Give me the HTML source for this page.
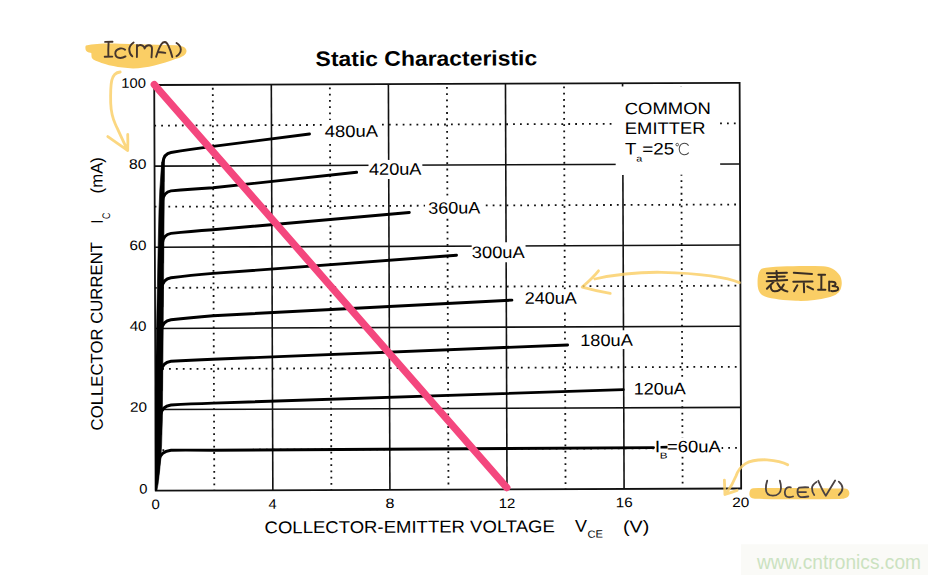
<!DOCTYPE html>
<html><head><meta charset="utf-8">
<style>
html,body{margin:0;padding:0;background:#fff;overflow:hidden;}
svg{display:block;}
text{font-family:"Liberation Sans",sans-serif;fill:#000;}
.g{stroke:#111;stroke-width:1.6;}
.dv{stroke:#111;stroke-width:1.8;stroke-dasharray:1.8 4.48;stroke-dashoffset:1.08;}
.dh{stroke:#111;stroke-width:1.8;stroke-dasharray:1.8 5.1;stroke-dashoffset:0.1;}
.fr{fill:none;stroke:#111;stroke-width:1.8;}
.cv{fill:none;stroke:#000;stroke-width:2.9;stroke-linejoin:round;stroke-linecap:round;}
</style></head><body>
<svg width="941" height="578" viewBox="0 0 941 578">
<rect width="941" height="578" fill="#fff"/>
<g transform="rotate(-0.2177 448.0 287.0)">
<line x1="213.54" y1="489.60" x2="213.54" y2="83.90" class="dv"/>
<line x1="330.62" y1="489.60" x2="330.62" y2="83.90" class="dv"/>
<line x1="447.70" y1="489.60" x2="447.70" y2="83.90" class="dv"/>
<line x1="564.78" y1="489.60" x2="564.78" y2="83.90" class="dv"/>
<line x1="681.86" y1="489.60" x2="681.86" y2="83.90" class="dv"/>
<line x1="155.00" y1="449.03" x2="740.40" y2="449.03" class="dh"/>
<line x1="155.00" y1="367.89" x2="740.40" y2="367.89" class="dh"/>
<line x1="155.00" y1="286.75" x2="740.40" y2="286.75" class="dh"/>
<line x1="155.00" y1="205.61" x2="740.40" y2="205.61" class="dh"/>
<line x1="155.00" y1="124.47" x2="740.40" y2="124.47" class="dh"/>
<line x1="272.08" y1="83.90" x2="272.08" y2="489.60" class="g"/>
<line x1="389.16" y1="83.90" x2="389.16" y2="489.60" class="g"/>
<line x1="506.24" y1="83.90" x2="506.24" y2="489.60" class="g"/>
<line x1="623.32" y1="83.90" x2="623.32" y2="489.60" class="g"/>
<line x1="155.00" y1="408.46" x2="740.40" y2="408.46" class="g"/>
<line x1="155.00" y1="327.32" x2="740.40" y2="327.32" class="g"/>
<line x1="155.00" y1="246.18" x2="740.40" y2="246.18" class="g"/>
<line x1="155.00" y1="165.04" x2="740.40" y2="165.04" class="g"/>
<rect x="616.16" y="87.14" width="104.47" height="88.50" fill="#fff"/>
<rect x="368.98" y="159.70" width="53.83" height="19.10" fill="#fff"/>
<rect x="471.87" y="242.49" width="53.82" height="20.00" fill="#fff"/>
<rect x="322.63" y="119.52" width="58.92" height="20.22" fill="#fff"/>
<rect x="425.35" y="195.91" width="57.92" height="21.22" fill="#fff"/>
<rect x="521.99" y="289.78" width="57.92" height="22.22" fill="#fff"/>
<rect x="577.84" y="330.89" width="57.93" height="18.92" fill="#fff"/>
<rect x="629.65" y="380.69" width="58.93" height="18.22" fill="#fff"/>
<rect x="654.43" y="438.79" width="66.43" height="18.75" fill="#fff"/>
<rect x="155.00" y="83.90" width="585.40" height="405.70" class="fr"/>
<path d="M164.88,158.92 L164.53,198.92 L163.94,248.92 L163.35,298.92 L162.76,348.92 L162.21,388.92 L161.79,418.91 L161.00,443.91 L160.04,458.91 L158.90,469.90 L157.46,481.90 L156.13,489.49 L154.43,489.49 L154.62,438.89 L155.01,388.89 L156.10,338.89 L157.29,288.90 L158.48,238.90 L159.29,208.90 L160.17,188.90 L161.44,170.91 L162.38,160.91 Z" fill="#000" stroke="#000" stroke-width="0.6" stroke-linejoin="round"/>
<path d="M163.19,180.42 L163.36,161.42 Q164.29,152.62 171.51,151.45 Q190.52,148.27 213.53,145.51 L310.08,133.47" class="cv"/>
<path d="M162.80,218.82 L163.02,199.82 Q163.95,191.02 171.37,189.85 Q190.37,188.17 213.38,186.91 L357.04,171.95" class="cv"/>
<path d="M162.29,261.31 L162.52,242.31 Q163.45,233.52 171.20,232.35 Q190.21,230.42 213.22,228.91 L409.58,212.35" class="cv"/>
<path d="M161.77,305.61 L162.00,286.61 Q162.93,277.82 171.04,276.65 Q190.04,274.37 213.05,272.51 L456.62,255.23" class="cv"/>
<path d="M161.27,347.71 L161.50,328.71 Q162.43,319.92 170.88,318.75 Q189.88,316.57 212.89,314.81 L511.85,300.34" class="cv"/>
<path d="M160.70,389.21 L160.97,370.21 Q161.90,361.41 170.72,360.25 Q189.72,359.12 212.73,358.41 L567.38,345.45" class="cv"/>
<path d="M159.85,432.91 L160.36,413.91 Q161.30,405.11 170.55,403.95 Q189.56,402.87 212.56,402.21 L622.81,390.27" class="cv"/>
<path d="M156.41,478.09 L158.52,459.10 Q159.46,450.31 170.38,449.15 Q189.38,449.07 212.38,449.41 L652.89,448.38" class="cv"/>
<line x1="659.89" y1="448.01" x2="666.89" y2="447.93" stroke="#000" stroke-width="2.6"/>
<line x1="155.07" y1="83.48" x2="506.04" y2="487.82" stroke="#F4477E" stroke-width="7.3" stroke-linecap="round"/>
<text x="316.45" y="65.62" textLength="221.58" lengthAdjust="spacingAndGlyphs" style="font-size:21px;font-weight:bold;" >Static Characteristic</text>
<text x="121.98" y="86.61" textLength="24.65" lengthAdjust="spacingAndGlyphs" style="font-size:13.7px;" >100</text>
<text x="129.42" y="167.62" textLength="17.43" lengthAdjust="spacingAndGlyphs" style="font-size:13.7px;" >80</text>
<text x="129.58" y="248.92" textLength="16.95" lengthAdjust="spacingAndGlyphs" style="font-size:13.7px;" >60</text>
<text x="129.53" y="329.52" textLength="16.89" lengthAdjust="spacingAndGlyphs" style="font-size:13.7px;" >40</text>
<text x="129.56" y="410.62" textLength="17.06" lengthAdjust="spacingAndGlyphs" style="font-size:13.7px;" >20</text>
<text x="138.52" y="492.44" textLength="8.23" lengthAdjust="spacingAndGlyphs" style="font-size:13.7px;" >0</text>
<text x="150.66" y="507.79" textLength="8.34" lengthAdjust="spacingAndGlyphs" style="font-size:13.7px;" >0</text>
<text x="267.66" y="508.03" textLength="8.18" lengthAdjust="spacingAndGlyphs" style="font-size:13.7px;" >4</text>
<text x="384.61" y="507.88" textLength="8.99" lengthAdjust="spacingAndGlyphs" style="font-size:13.7px;" >8</text>
<text x="497.96" y="508.23" textLength="16.63" lengthAdjust="spacingAndGlyphs" style="font-size:13.7px;" >12</text>
<text x="614.84" y="507.77" textLength="16.96" lengthAdjust="spacingAndGlyphs" style="font-size:13.7px;" >16</text>
<text x="731.50" y="508.01" textLength="17.06" lengthAdjust="spacingAndGlyphs" style="font-size:13.7px;" >20</text>
<text x="325.40" y="136.53" textLength="53.28" lengthAdjust="spacingAndGlyphs" style="font-size:16.6px;" >480uA</text>
<text x="369.36" y="174.60" textLength="52.57" lengthAdjust="spacingAndGlyphs" style="font-size:16.6px;" >420uA</text>
<text x="428.46" y="213.62" textLength="52.13" lengthAdjust="spacingAndGlyphs" style="font-size:16.6px;" >360uA</text>
<text x="471.88" y="258.19" textLength="52.94" lengthAdjust="spacingAndGlyphs" style="font-size:16.6px;" >300uA</text>
<text x="524.64" y="304.09" textLength="52.11" lengthAdjust="spacingAndGlyphs" style="font-size:16.6px;" >240uA</text>
<text x="580.02" y="346.50" textLength="52.56" lengthAdjust="spacingAndGlyphs" style="font-size:16.6px;" >180uA</text>
<text x="633.25" y="395.21" textLength="52.15" lengthAdjust="spacingAndGlyphs" style="font-size:16.6px;" >120uA</text>
<text x="654.17" y="453.00" textLength="5.56" lengthAdjust="spacingAndGlyphs" style="font-size:16.6px;" >I</text>
<text x="659.21" y="459.42" textLength="7.78" lengthAdjust="spacingAndGlyphs" style="font-size:8.5px;" >B</text>
<text x="666.45" y="453.14" textLength="53.79" lengthAdjust="spacingAndGlyphs" style="font-size:16.6px;" >=60uA</text>
<text x="625.33" y="114.83" textLength="86.21" lengthAdjust="spacingAndGlyphs" style="font-size:16.6px;" >COMMON</text>
<text x="625.41" y="134.73" textLength="80.66" lengthAdjust="spacingAndGlyphs" style="font-size:16.6px;" >EMITTER</text>
<text x="625.63" y="155.29" textLength="11.47" lengthAdjust="spacingAndGlyphs" style="font-size:16.6px;" >T</text>
<text x="636.85" y="162.33" textLength="5.99" lengthAdjust="spacingAndGlyphs" style="font-size:8.8px;" >a</text>
<text x="642.66" y="155.40" textLength="32.13" lengthAdjust="spacingAndGlyphs" style="font-size:16.6px;" >=25</text>
<circle cx="677.74" cy="145.47" r="1.3" fill="none" stroke="#444" stroke-width="0.9"/>
<path d="M689.14,146.51 C686.55,142.90 680.05,143.38 679.72,149.88 C680.00,156.38 686.50,156.90 689.31,153.52" fill="none" stroke="#444" stroke-width="1.0"/>
<text x="263.64" y="532.56" textLength="290.34" lengthAdjust="spacingAndGlyphs" style="font-size:17px;" >COLLECTOR-EMITTER VOLTAGE</text>
<text x="574.19" y="532.31" textLength="12.01" lengthAdjust="spacingAndGlyphs" style="font-size:17px;" >V</text>
<text x="586.59" y="538.16" textLength="15.50" lengthAdjust="spacingAndGlyphs" style="font-size:10.4px;" >CE</text>
<text x="621.98" y="533.11" textLength="26.33" lengthAdjust="spacingAndGlyphs" style="font-size:17px;" >(V)</text>
<g transform="translate(102.26,428.29) rotate(-90)"><text x="-0.84" y="0.00" textLength="188.38" lengthAdjust="spacingAndGlyphs" style="font-size:16.8px;" >COLLECTOR CURRENT</text></g>
<g transform="translate(102.95,220.99) rotate(-90)"><text x="-1.26" y="0.00" textLength="3.89" lengthAdjust="spacingAndGlyphs" style="font-size:16.8px;" >I</text></g>
<g transform="translate(110.36,217.32) rotate(-90)"><text x="-0.44" y="0.00" textLength="6.42" lengthAdjust="spacingAndGlyphs" style="font-size:11px;" >C</text></g>
<g transform="translate(102.96,191.09) rotate(-90)"><text x="-1.01" y="0.00" textLength="36.31" lengthAdjust="spacingAndGlyphs" style="font-size:16.8px;" >(mA)</text></g>
</g>
<rect x="741" y="544.3" width="187" height="30.7" fill="#fafaf7"/>
<text x="757" y="568.6" textLength="164" lengthAdjust="spacingAndGlyphs" style="font-size:19.5px;fill:#cbe2c0">www.cntronics.com</text>
<path d="M86,45.5 C95,43.6 108,43.3 120,43.8 L176,45.3 C183,45.6 186.8,48 186.5,51.2 C186.2,54.8 182.5,57 176,58.8 C162,64 147,68.4 133,68.4 C119,68 106,65 98.5,61.8 C94.5,60.2 92,59 91.6,57.2 L91.3,53 C88.2,52.8 85.6,51.3 85.5,49 C85.3,47.2 85.4,46.2 86,45.5 Z" fill="#FACE65"/>
<path d="M105.1,41.9 L112.5,41.7 M108.6,41.9 C108.3,47 108.2,52 108.4,56.7 M104.7,56.8 L112.3,56.6" fill="none" stroke="#45352c" stroke-width="1.9" stroke-linecap="round" stroke-linejoin="round"/>
<path d="M125.1,49.7 C123.5,48.3 121.5,48.2 120,48.5 C116.8,49.3 115.2,51.5 115.3,53.5 C115.4,56.3 117.6,58 120.4,58 C122.4,58 124,57.4 125.5,56.4" fill="none" stroke="#45352c" stroke-width="1.9" stroke-linecap="round" stroke-linejoin="round"/>
<path d="M133.6,42.5 C130.6,44.5 129.2,47.3 129.3,49.9 C129.4,52.6 130.5,54.8 132.3,56.3" fill="none" stroke="#45352c" stroke-width="1.9" stroke-linecap="round" stroke-linejoin="round"/>
<path d="M136.9,57.1 C137,53 136.9,49 137,45 M137.1,46.5 C138.5,45 141,44.8 142.6,45.6 C144.1,46.4 144.6,47.8 144.6,48.6 C145.2,46.6 147,45.2 149,45.3 C151,45.4 152,47 152,48.5 C152,51.5 151.7,54.5 151.5,57.4" fill="none" stroke="#45352c" stroke-width="1.9" stroke-linecap="round" stroke-linejoin="round"/>
<path d="M156.1,56.9 C157.6,52 159.5,47 161.5,44 C162.6,42.4 163.6,42 164.8,42 C166.4,42.1 167.6,43.8 168.5,46 C170.2,49.5 171.4,53.5 172.3,57.1 M158.4,52.3 C160.8,52.1 163.2,52.3 165.3,52.9" fill="none" stroke="#45352c" stroke-width="1.9" stroke-linecap="round" stroke-linejoin="round"/>
<path d="M176.5,43 C179,44.6 180.8,46.8 180.8,49.4 C180.8,52.2 179,54.5 176.5,56.3" fill="none" stroke="#45352c" stroke-width="1.9" stroke-linecap="round" stroke-linejoin="round"/>
<path d="M120.2,72 C116.5,72.3 113,75 111.7,80.6 C110.6,86 110.5,95 110.7,103 C111,112 112.5,118 115.5,124.5 C118.5,131 123,141 127.7,150.5 M107.8,136.6 C114,141 121,146 127.7,150.5 C127.9,145 127.9,140 127.7,134.4" fill="none" stroke="#FACE65" stroke-width="2.8" stroke-linecap="round" stroke-linejoin="round" opacity="0.82"/>
<path d="M762,268.5 C775,266.2 800,265.8 823,266.3 C830,266.6 836,270 839.5,275 C842.2,279 842.4,285 840.5,289.5 C838.5,294 834,296 828,297.5 C818,300.3 806,301.2 796,300.8 C785,300.4 772,299 765,296.5 C760,294.5 757.8,290.5 757.6,284.5 C757.4,278 758,271 762,268.5 Z" fill="#FACE65"/>
<path d="M766.9,273.3 L786.9,272.7 M768.2,276.9 L784.8,276.4 M776.5,270.9 L777,280.3 M766.7,281.3 L787.2,280 M773.7,281.8 L766.9,288.8 M770.8,285.6 C770.6,288.5 771.2,291 774.5,291.3 C778,291.5 781.5,289 783.8,284.5 M777.4,283.2 C779.5,287.5 783,290.8 787.4,291.4" fill="none" stroke="#3a2e24" stroke-width="2.0" stroke-linecap="round" stroke-linejoin="round"/>
<path d="M793.8,272.7 L812,273.9 M793.3,281.8 L812.5,281.5 M803.8,281.8 L804.1,292.3 M797.4,285.3 L794.1,291.1 M807.3,286.5 L813.1,289.4" fill="none" stroke="#3a2e24" stroke-width="2.0" stroke-linecap="round" stroke-linejoin="round"/>
<path d="M818.4,274.8 L825.1,274.8 M821.4,274.8 L821.3,289.7 M818.1,289.7 L825.4,289.7 M829.2,281.5 L829.2,290.8 M830.7,281.8 C833,281.5 835.5,282 835.6,283.8 C835.6,285.3 834,286 832.5,286 C835.5,286 838.2,287 838.2,288.9 C838.2,290.8 834.5,291.3 831.2,291.1" fill="none" stroke="#3a2e24" stroke-width="2.0" stroke-linecap="round" stroke-linejoin="round"/>
<path d="M739.4,282.6 C728,277.5 700,273 661.7,272.3 C640,272 615,274.5 594.9,279 M598.5,270.8 C594,276.5 588,282 582.2,287.1 C591,289.5 601,291.8 610.2,293.4" fill="none" stroke="#FACE65" stroke-width="2.8" stroke-linecap="round" stroke-linejoin="round" opacity="0.82"/>
<path d="M753,488.2 C780,487.6 820,488 845,488.6 C849,489 849.8,492.5 849.2,494.5 C848.5,497.5 845,498.8 840,499 C810,499.6 780,499.4 755,498.8 C750.5,498.5 749.2,496 749.4,493.5 C749.6,490.5 750.5,488.4 753,488.2 Z" fill="#FACE65"/>
<path d="M767.2,480.6 C766.2,483.5 765.8,486.5 765.9,489 C766,493.2 768.8,495.6 772.9,495.6 C777.5,495.6 780.8,492.8 781,488.2 C781.1,485.5 780.6,483 779.8,480.6" fill="none" stroke="#4a4242" stroke-width="1.8" stroke-linecap="round" stroke-linejoin="round"/>
<path d="M790.8,487.4 C789.5,487 787.8,487.1 786.6,488 C785.2,489.1 784.8,490.8 784.8,492.3 C784.9,495 786.4,497.1 788.4,497.2 C790,497.3 791.8,497 793,496.5" fill="none" stroke="#4a4242" stroke-width="1.8" stroke-linecap="round" stroke-linejoin="round"/>
<path d="M808.3,487.3 C805,487.2 801.5,487.2 799.2,487.6 C797.8,488.5 797.4,490.3 797.5,492 C797.6,494.5 798.4,496.6 800.8,497.1 C803.5,497.3 806,496.9 808.3,496.5 M797.8,492.1 L806,492.1" fill="none" stroke="#4a4242" stroke-width="1.8" stroke-linecap="round" stroke-linejoin="round"/>
<path d="M816.5,482 C813.8,483.8 812,485.8 812,488 C812,490.8 812.8,493.2 814.2,495" fill="none" stroke="#4a4242" stroke-width="1.8" stroke-linecap="round" stroke-linejoin="round"/>
<path d="M818.3,480.8 C820.5,486 822.8,491.2 825.8,495.7 C829,490.5 832.2,485.2 835.1,480.5" fill="none" stroke="#4a4242" stroke-width="1.8" stroke-linecap="round" stroke-linejoin="round"/>
<path d="M838.8,481.6 C841,483.5 842.5,485.8 842.5,488 C842.5,490.5 841,493 838.8,495" fill="none" stroke="#4a4242" stroke-width="1.8" stroke-linecap="round" stroke-linejoin="round"/>
<path d="M787.7,464.8 C782,461.5 774.5,460.3 767,459.8 C758,459.5 751,460.3 745.5,463.6 C740.5,466.8 737.5,471.5 736,476 C734,481 731,487 726,493.7 M724.4,480.1 C724.6,485 724.8,490 724.9,494.5 C729,493 733,491.6 737.1,490.3" fill="none" stroke="#FACE65" stroke-width="2.8" stroke-linecap="round" stroke-linejoin="round" opacity="0.82"/>
</svg>
</body></html>
